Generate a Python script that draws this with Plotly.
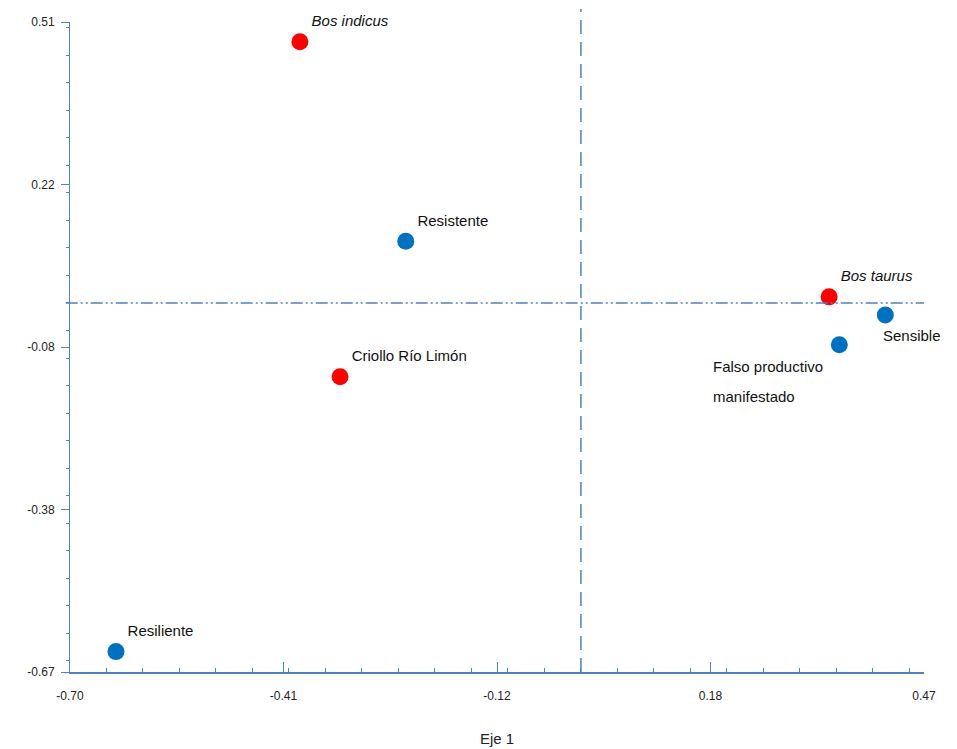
import plotly.graph_objects as go

# Data
labels = ["Bos indicus", "Bos taurus", "Criollo Río Limón",
          "Resistente", "Sensible", "Falso productivo<br>manifestado", "Resiliente"]
eje1 = [-0.385, 0.340, -0.330, -0.240, 0.417, 0.354, -0.637]
eje2 = [0.474, 0.011, -0.134, 0.112, -0.022, -0.076, -0.633]
groups = ["raza", "raza", "raza", "fen", "fen", "fen", "fen"]
label_pos = ["top right", "top right", "top right", "top right",
             "below", "below left", "top right"]
italic = [True, True, False, False, False, False, False]

x_tickvals = [-0.70, -0.4075, -0.115, 0.1775, 0.47]
x_ticktext = ["-0.70", "-0.41", "-0.12", "0.18", "0.47"]
y_tickvals = [0.51, 0.215, -0.08, -0.375, -0.67]
y_ticktext = ["0.51", "0.22", "-0.08", "-0.38", "-0.67"]
x_title = "Eje 1"

colors = {"raza": "#ff0000", "fen": "#0070c0"}
axis_col = "#4f81bd"
font_fam = "Liberation Sans, Arial"
lab_font = dict(family=font_fam, size=15, color="#111")

fig = go.Figure()
for g in ["raza", "fen"]:
    idx = [i for i, gg in enumerate(groups) if gg == g]
    fig.add_trace(go.Scatter(
        x=[eje1[i] for i in idx], y=[eje2[i] for i in idx],
        mode="markers+text",
        text=[("" if label_pos[i] not in ("top right",) else
               (("<i>%s</i>" % labels[i]) if italic[i] else labels[i])) for i in idx],
        textposition="top right",
        textfont=lab_font,
        marker=dict(color=colors[g], size=17, line=dict(width=0)),
        showlegend=False, cliponaxis=False, hoverinfo="skip"))

# labels placed below the point
for i, p in enumerate(label_pos):
    if p == "below":
        fig.add_annotation(x=eje1[i], y=eje2[i], text=labels[i], showarrow=False,
                           xanchor="left", yanchor="middle", xshift=-4, yshift=-20,
                           font=lab_font)
    elif p == "below left":
        for k, line in enumerate(labels[i].split("<br>")):
            fig.add_annotation(x=eje1[i], y=eje2[i], text=line, showarrow=False,
                               xanchor="left", yanchor="middle", xshift=-128,
                               yshift=-22 - 30 * k, font=lab_font)

# axis title
fig.add_annotation(xref="paper", yref="paper", x=0.5, y=0, yshift=-66,
                   text=x_title, showarrow=False, xanchor="center", yanchor="middle",
                   font=dict(family=font_fam, size=15, color="#222"))

# reference lines at origin
fig.add_shape(type="line", xref="x", yref="paper", x0=0, x1=0, y0=0, y1=1.02,
              line=dict(color=axis_col, width=1.5, dash="14px,8px"))
fig.add_shape(type="line", xref="paper", yref="y", x0=-0.005, x1=1.0, y0=0, y1=0,
              line=dict(color=axis_col, width=1.5, dash="12px,3px,2px,3px,2px,3px"))

fig.update_xaxes(range=[-0.70, 0.47], tickvals=x_tickvals, ticktext=x_ticktext,
                 showgrid=False, zeroline=False, showline=True, linecolor=axis_col,
                 linewidth=2, ticks="inside", ticklen=10, tickcolor=axis_col,
                 ticklabelstandoff=12, automargin=False,
                 tickfont=dict(family=font_fam, size=12, color="#222"),
                 minor=dict(ticks="inside", ticklen=4, nticks=5, tickcolor=axis_col))
fig.update_yaxes(range=[-0.67, 0.51], tickvals=y_tickvals, ticktext=y_ticktext,
                 showgrid=False, zeroline=False, showline=True, linecolor=axis_col,
                 linewidth=1, ticks="outside", ticklen=8, tickcolor=axis_col,
                 ticklabelstandoff=4, automargin=False,
                 tickfont=dict(family=font_fam, size=12, color="#222"),
                 minor=dict(ticks="outside", ticklen=3, nticks=6, tickcolor=axis_col))

fig.update_layout(width=949, height=741, plot_bgcolor="white", paper_bgcolor="white",
                  margin=dict(l=62, r=33, t=14, b=77))
fig.write_html("out.html")
